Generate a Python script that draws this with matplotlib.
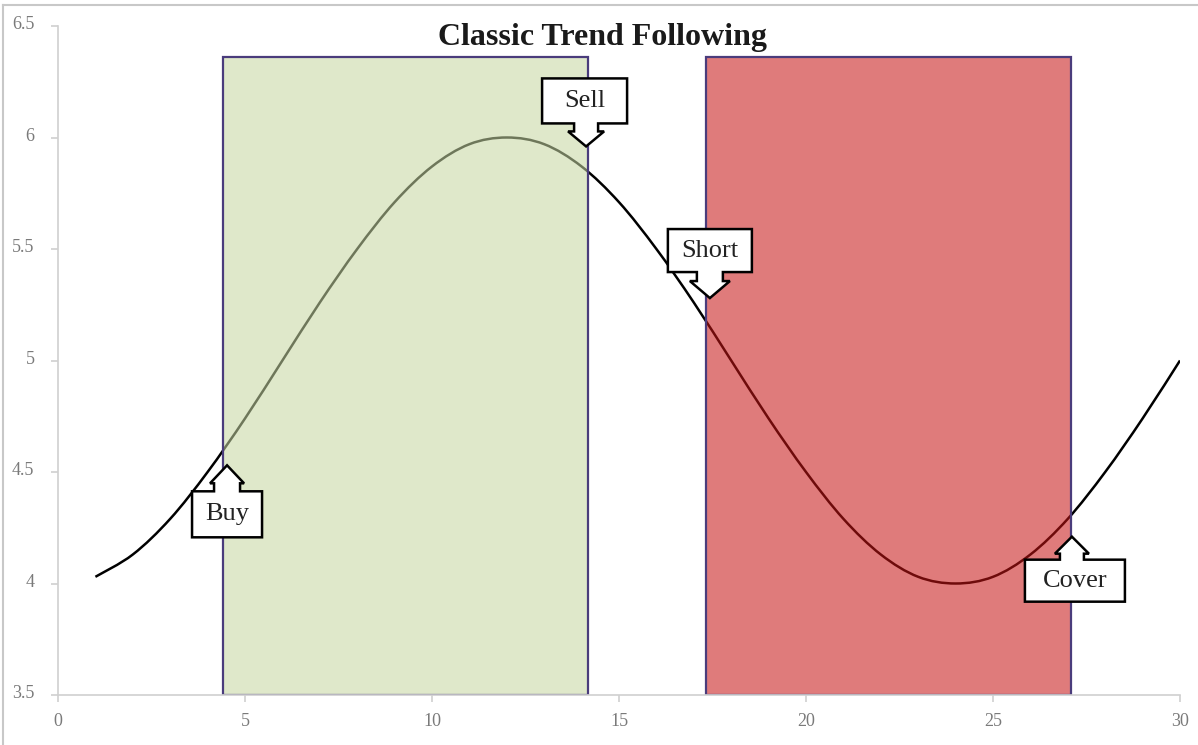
import matplotlib
matplotlib.use("Agg")
import matplotlib.pyplot as plt
from matplotlib.patches import Polygon, PathPatch
from matplotlib.lines import Line2D
from matplotlib.path import Path
from matplotlib.transforms import ScaledTranslation

plt.rcParams['font.family'] = ['Liberation Serif', 'DejaVu Serif']

# price curve
days = list(range(1, 31))
price = [4.03, 4.13, 4.29, 4.50, 4.74, 5.00, 5.26, 5.50, 5.71, 5.87,
         5.97, 6.00, 5.97, 5.87, 5.71, 5.50, 5.26, 5.00, 4.74, 4.50,
         4.29, 4.13, 4.03, 4.00, 4.03, 4.13, 4.29, 4.50, 4.74, 5.00]

# long / short zones
zone_start = [4.42, 17.33]
zone_end = [14.17, 27.09]
zone_top = 6.36
zone_colors = [(0.776, 0.839, 0.635, 0.56), (0.776, 0.078, 0.078, 0.56)]

# signal callouts: label, tip x, tip y, direction
signals = ['Buy', 'Sell', 'Short', 'Cover']
signal_x = [4.52, 14.12, 17.43, 27.11]
signal_y = [4.53, 5.96, 5.28, 4.21]
signal_dir = ['up', 'down', 'down', 'up']

fig = plt.figure(figsize=(11.98, 7.45), dpi=100)
ax = fig.add_axes([58/1198, 50/745, 1122/1198, 669/745])

# smoothed line through the points (like a spreadsheet "smoothed line")
verts = [(days[0], price[0])]
codes = [Path.MOVETO]
n = len(days)
for i in range(n - 1):
    x0, y0 = days[max(i - 1, 0)], price[max(i - 1, 0)]
    x1, y1 = days[i], price[i]
    x2, y2 = days[i + 1], price[i + 1]
    x3, y3 = days[min(i + 2, n - 1)], price[min(i + 2, n - 1)]
    verts += [(x1 + (x2 - x0) / 6, y1 + (y2 - y0) / 6),
              (x2 - (x3 - x1) / 6, y2 - (y3 - y1) / 6),
              (x2, y2)]
    codes += [Path.CURVE4] * 3
ax.add_patch(PathPatch(Path(verts, codes), fill=False, edgecolor='black',
                       lw=1.8, zorder=1))

widths = [e - s for s, e in zip(zone_start, zone_end)]
ax.bar(zone_start, [zone_top - 3.5] * 2, width=widths, bottom=3.5, align='edge',
       color=zone_colors, edgecolor='#4a3c7c', linewidth=1.6, zorder=2)

ax.set_xlim(0, 30)
ax.set_ylim(3.5, 6.5)
ax.set_xticks([0, 5, 10, 15, 20, 25, 30])
ax.set_yticks([3.5, 4, 4.5, 5, 5.5, 6, 6.5])
ax.set_yticklabels(['3.5', '4', '4.5', '5', '5.5', '6', '6.5'])
for side in ['top', 'right']:
    ax.spines[side].set_visible(False)
for side in ['left', 'bottom']:
    ax.spines[side].set_color('#d0d0d0')
    ax.spines[side].set_linewidth(1.2)
ax.tick_params(colors='#d0d0d0', labelcolor='#7a7a7a', labelsize=13,
               length=5, width=1.2)
ax.tick_params(axis='y', pad=12)
ax.tick_params(axis='x', pad=8)
for lab in ax.get_yticklabels():
    lab.set_transform(lab.get_transform() + ScaledTranslation(0, 0.03, fig.dpi_scale_trans))

fig.text(603/1198, 1 - 37/745, 'Classic Trend Following', fontsize=23,
         fontweight='bold', color='#1a1a1a', ha='center', va='center')

# callout geometry in pixels relative to the tip
shapes = {
    'Buy': (-35, 35, 26, 72, 13, 17, 18),
    'Sell': (-44, 41, 23, 68, 12, 18, 15),
    'Short': (-42, 42, 26, 69, 13, 20, 17),
    'Cover': (-47, 53, 23, 65, 12, 17, 17),
}
for name, tx, ty, d in zip(signals, signal_x, signal_y, signal_dir):
    L, R, yb, yt, s, h, yh = shapes[name]
    sg = 1 if d == 'down' else -1
    pts = [(L, yt), (R, yt), (R, yb), (s, yb), (s, yh), (h, yh), (0, 0),
           (-h, yh), (-s, yh), (-s, yb), (L, yb)]
    pts = [(px / 100, sg * py / 100) for px, py in pts]
    tr = fig.dpi_scale_trans + ScaledTranslation(tx, ty, ax.transData)
    ax.add_patch(Polygon(pts, closed=True, facecolor='white', edgecolor='black',
                         lw=1.8, transform=tr, zorder=3, joinstyle='miter'))
    ax.text((L + R) / 200, sg * (yb + yt) / 200, name, transform=tr,
            ha='center', va='center', fontsize=19, color='#222222', zorder=4)

# outer frame (top and left edges)
fig.add_artist(Line2D([3/1198, 3/1198], [0, 1 - 5/745], color='#c8c8c8', lw=1.5))
fig.add_artist(Line2D([3/1198, 1], [1 - 5/745, 1 - 5/745], color='#c8c8c8', lw=1.5))

fig.savefig('out.png', dpi=100)
